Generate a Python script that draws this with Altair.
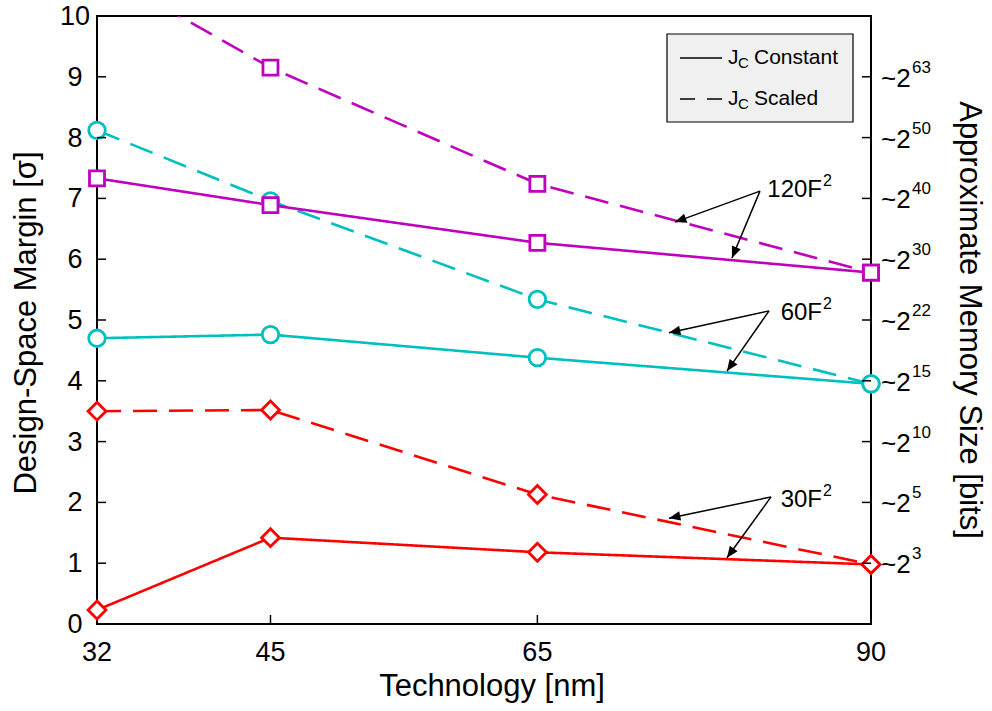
import math
import altair as alt
import pandas as pd

# ---------------- data ----------------
tech = [32, 45, 65, 90]
red_const = [0.23, 1.42, 1.18, 0.98]
red_scaled = [3.50, 3.52, 2.13, 0.98]
cyan_const = [4.70, 4.76, 4.38, 3.95]
cyan_scaled = [8.12, 6.96, 5.34, 3.95]
mag_const = [7.33, 6.89, 6.27, 5.78]
mag_scaled = [10.77, 9.15, 7.24, 5.78]

groups = ["30F2", "60F2", "120F2"]
group_colors = ["#FF0000", "#00BFBF", "#BF00BF"]
group_shapes = ["diamond", "circle", "square"]
group_sizes = [320, 225, 265]

x_tick_vals = [32, 45, 65, 90]
x_tick_labels = ["32", "45", "65", "90"]
y_tick_vals = [0, 1, 2, 3, 4, 5, 6, 7, 8, 9, 10]
y_tick_labels = ["0", "1", "2", "3", "4", "5", "6", "7", "8", "9", "10"]

right_tick_vals = [1, 2, 3, 4, 5, 6, 7, 8, 9]
right_exps = ["3", "5", "10", "15", "22", "30", "40", "50", "63"]

left_tick_vals = [1, 2, 3, 4, 5, 6, 7, 8, 9]
bottom_tick_vals = [45, 65]

x_title = "Technology [nm]"
y_title = "Design-Space Margin [σ]"
y2_title = "Approximate Memory Size [bits]"

# annotation arrows: label, label position, start, tips
ann_labels = ["120F", "60F", "30F"]
ann_label_y = [7.14, 5.12, 2.04]
arrow_start_x = [81.68, 82.36, 82.51]
arrow_start_y = [7.12, 5.15, 2.09]
arrow_tip1_x = [75.31, 74.86, 74.86]
arrow_tip1_y = [6.61, 4.79, 1.74]
arrow_tip2_x = [79.58, 79.21, 79.21]
arrow_tip2_y = [6.02, 4.16, 1.09]

W, H = 774, 608
XMIN, XMAX, YMIN, YMAX = 32, 90, 0, 10
FONT = "Liberation Sans"

rows = []
for g, const, scaled in zip(groups, [red_const, cyan_const, mag_const],
                            [red_scaled, cyan_scaled, mag_scaled]):
    for t, v in zip(tech, const):
        rows.append(dict(tech=t, margin=v, group=g, kind="Constant", key=g + "c"))
    for t, v in zip(tech, scaled):
        rows.append(dict(tech=t, margin=v, group=g, kind="Scaled", key=g + "s"))
df = pd.DataFrame(rows)

xscale = alt.Scale(domain=[XMIN, XMAX], nice=False, zero=False)
yscale = alt.Scale(domain=[YMIN, YMAX], nice=False, zero=False)
cscale = alt.Scale(domain=groups, range=group_colors)

lines = alt.Chart(df).mark_line(strokeWidth=2.6, clip=True).encode(
    x=alt.X("tech:Q", scale=xscale, axis=None),
    y=alt.Y("margin:Q", scale=yscale, axis=None),
    color=alt.Color("group:N", scale=cscale, legend=None),
    strokeDash=alt.StrokeDash("kind:N", scale=alt.Scale(domain=["Constant", "Scaled"],
                                                        range=[[1, 0], [24, 12]]),
                              legend=None),
    detail="key:N",
)

points = alt.Chart(df).transform_filter(
    alt.datum.margin <= YMAX
).mark_point(filled=True, fill="white", strokeWidth=2.8, opacity=1).encode(
    x=alt.X("tech:Q", scale=xscale, axis=None),
    y=alt.Y("margin:Q", scale=yscale, axis=None),
    stroke=alt.Stroke("group:N", scale=cscale, legend=None),
    shape=alt.Shape("group:N", scale=alt.Scale(domain=groups, range=group_shapes), legend=None),
    size=alt.Size("group:N", scale=alt.Scale(domain=groups, range=group_sizes), legend=None),
)

# tick labels (left / bottom)
ylab = alt.Chart(pd.DataFrame({"v": y_tick_vals, "t": y_tick_labels})).mark_text(
    align="center", baseline="middle", fontSize=27, font=FONT, color="black", dy=1
).encode(y=alt.Y("v:Q", scale=yscale, axis=None), x=alt.value(-22), text="t:N")
xlab = alt.Chart(pd.DataFrame({"v": x_tick_vals, "t": x_tick_labels})).mark_text(
    align="center", baseline="alphabetic", fontSize=27, font=FONT, color="black"
).encode(x=alt.X("v:Q", scale=xscale, axis=None), y=alt.value(H + 37), text="t:N")

# titles
xt = alt.Chart(pd.DataFrame({"t": [x_title]})).mark_text(
    align="center", baseline="alphabetic", fontSize=31, font=FONT, color="black"
).encode(x=alt.value(395), y=alt.value(H + 72), text="t:N")
yt = alt.Chart(pd.DataFrame({"t": [y_title]})).mark_text(
    angle=270, align="center", baseline="middle", fontSize=31, font=FONT, color="black"
).encode(x=alt.value(-70), y=alt.value(307), text="t:N")
y2t = alt.Chart(pd.DataFrame({"t": [y2_title]})).mark_text(
    angle=90, align="center", baseline="middle", fontSize=31, font=FONT, color="black"
).encode(x=alt.value(W + 98), y=alt.value(304), text="t:N")

# inward ticks
left_ticks = alt.Chart(pd.DataFrame({"v": left_tick_vals})).mark_rule(
    color="black", strokeWidth=1.5).encode(
    y=alt.Y("v:Q", scale=yscale, axis=None), x=alt.value(0), x2=alt.value(9))
right_ticks = alt.Chart(pd.DataFrame({"v": right_tick_vals})).mark_rule(
    color="black", strokeWidth=1.5).encode(
    y=alt.Y("v:Q", scale=yscale, axis=None), x=alt.value(W - 9), x2=alt.value(W))
bottom_ticks = alt.Chart(pd.DataFrame({"v": bottom_tick_vals})).mark_rule(
    color="black", strokeWidth=1.5).encode(
    x=alt.X("v:Q", scale=xscale, axis=None), y=alt.value(H - 9), y2=alt.value(H))

# right-hand labels  ~2^n
rl = pd.DataFrame({"v": right_tick_vals, "e": right_exps})
right_base = alt.Chart(rl).mark_text(align="left", baseline="middle", fontSize=26,
                                     font=FONT, color="black", dy=2).encode(
    y=alt.Y("v:Q", scale=yscale, axis=None), x=alt.value(W + 10), text=alt.value("~2"))
right_exp = alt.Chart(rl).mark_text(align="left", baseline="middle", fontSize=17,
                                    font=FONT, color="black", dy=-9).encode(
    y=alt.Y("v:Q", scale=yscale, axis=None), x=alt.value(W + 41), text="e:N")

# annotations
pxx = W / (XMAX - XMIN)
pxy = H / (YMAX - YMIN)
arows = []
for i in range(len(ann_labels)):
    for tx, ty in [(arrow_tip1_x[i], arrow_tip1_y[i]), (arrow_tip2_x[i], arrow_tip2_y[i])]:
        dx = (tx - arrow_start_x[i]) * pxx
        dy = -(ty - arrow_start_y[i]) * pxy
        ang = math.degrees(math.atan2(dx, -dy)) % 360
        arows.append(dict(sx=arrow_start_x[i], sy=arrow_start_y[i], tx=tx, ty=ty, ang=ang))
adf = pd.DataFrame(arows)
arrow_lines = alt.Chart(adf).mark_rule(color="black", strokeWidth=1.5).encode(
    x=alt.X("sx:Q", scale=xscale, axis=None), y=alt.Y("sy:Q", scale=yscale, axis=None),
    x2="tx:Q", y2="ty:Q")
arrow_heads = alt.Chart(adf).mark_point(
    shape="M0,0L-0.42,1L0.42,1Z", filled=True, color="black", opacity=1, size=520
).encode(
    x=alt.X("tx:Q", scale=xscale, axis=None), y=alt.Y("ty:Q", scale=yscale, axis=None),
    angle=alt.Angle("ang:Q", scale=None))
ldf = pd.DataFrame({"y": ann_label_y, "t": ann_labels})
ann_text = alt.Chart(ldf).mark_text(align="right", baseline="middle", fontSize=24,
                                    font=FONT, color="black").encode(
    x=alt.value(725), y=alt.Y("y:Q", scale=yscale, axis=None), text="t:N")
ann_sup = alt.Chart(ldf).mark_text(align="left", baseline="middle", fontSize=16,
                                   font=FONT, color="black", dy=-9, dx=1).encode(
    x=alt.value(725), y=alt.Y("y:Q", scale=yscale, axis=None), text=alt.value("2"))

# legend box
leg_box = alt.Chart(pd.DataFrame({"a": [0]})).mark_rect(
    fill="#f0f0f0", stroke="black", strokeWidth=1.2).encode(
    x=alt.value(570), x2=alt.value(756), y=alt.value(18), y2=alt.value(106))
leg_items = ["Constant", "Scaled"]
leg_y = [42, 83]
leg_dashes = [[1, 0], [15, 12]]
leg_layers = []
for lab, yy, dash in zip(leg_items, leg_y, leg_dashes):
    base = alt.Chart(pd.DataFrame({"lab": [lab]}))
    leg_layers.append(base.mark_rule(color="black", strokeWidth=1.5, strokeDash=dash).encode(
        x=alt.value(583), x2=alt.value(625), y=alt.value(yy)))
    leg_layers.append(base.mark_text(align="left", baseline="middle", fontSize=21,
                                     font=FONT, color="black").encode(
        x=alt.value(631), y=alt.value(yy), text=alt.value("J")))
    leg_layers.append(base.mark_text(align="left", baseline="middle", fontSize=15,
                                     font=FONT, color="black", dy=5).encode(
        x=alt.value(641), y=alt.value(yy), text=alt.value("C")))
    leg_layers.append(base.mark_text(align="left", baseline="middle", fontSize=21,
                                     font=FONT, color="black").encode(
        x=alt.value(657), y=alt.value(yy), text="lab:N"))

chart = alt.layer(
    lines, points, ylab, xlab, xt, yt, y2t,
    left_ticks, right_ticks, bottom_ticks, right_base, right_exp,
    arrow_lines, arrow_heads, ann_text, ann_sup,
    leg_box, *leg_layers,
).properties(
    width=W, height=H,
    autosize=alt.AutoSizeParams(type="none"),
    padding={"left": 97, "top": 16, "right": 121, "bottom": 87},
    background="white",
).configure_view(stroke="black", strokeWidth=2)

chart.save("out.html", embed_options={"renderer": "svg", "actions": False})
